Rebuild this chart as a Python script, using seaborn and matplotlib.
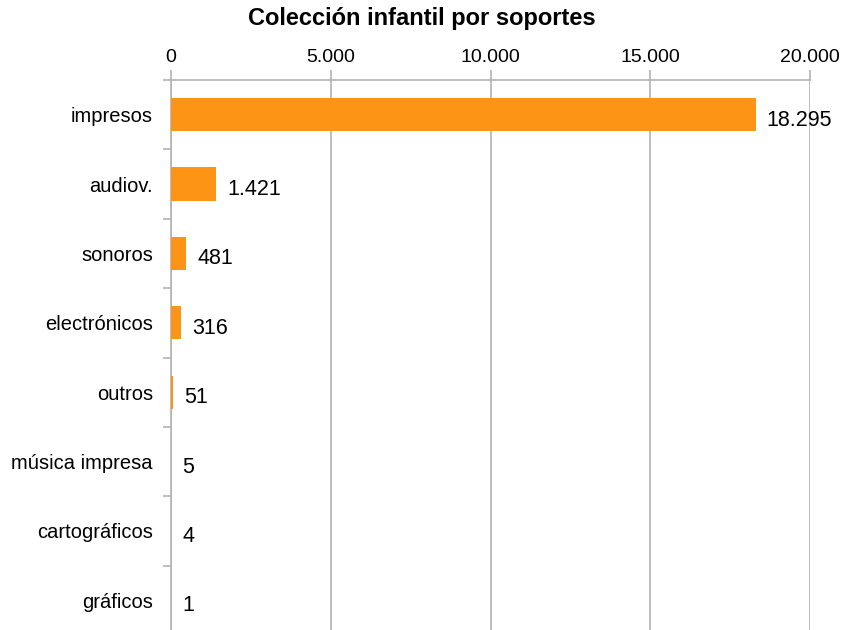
import matplotlib
matplotlib.use("Agg")
import pandas as pd
import seaborn as sns
import matplotlib.pyplot as plt
from matplotlib.ticker import FuncFormatter, FixedLocator

categories = ["impresos", "audiov.", "sonoros", "electrónicos", "outros",
              "música impresa", "cartográficos", "gráficos"]
values = [18295, 1421, 481, 316, 51, 5, 4, 1]
xticks = [0, 5000, 10000, 15000, 20000]

df = pd.DataFrame({"soporte": categories, "total": values})

sns.set_theme(style="white")
plt.rcParams["font.family"] = ["Liberation Sans", "DejaVu Sans"]
plt.rcParams["text.color"] = "black"
plt.rcParams["xtick.labelcolor"] = "black"
plt.rcParams["ytick.labelcolor"] = "black"

grey = "#b3b3b3"
fig = plt.figure(figsize=(8.44, 6.3), dpi=100)
ax = fig.add_axes([171 / 844, -5 / 630, (810 - 171) / 844, (630 - 80 + 5) / 630])

sns.barplot(data=df, x="total", y="soporte", orient="h", color="#fd9415",
            saturation=1, width=0.48, linewidth=0, ax=ax, zorder=3)


def dotted(v, pos=None):
    return f"{int(round(v)):,}".replace(",", ".")


labels = ax.bar_label(ax.containers[0], labels=[dotted(v) for v in values],
                      padding=8, fontsize=15.5, color="black")
# excel puts the numbers a touch below the bar centre
for t in labels:
    t.xyann = (8, -4)

ax.set_xlim(0, 20000)
ax.set_ylim(len(categories) - 0.5, -0.5)
ax.xaxis.tick_top()
ax.set_xticks(xticks)
ax.xaxis.set_major_formatter(FuncFormatter(dotted))
ax.tick_params(axis="x", which="major", length=7, width=1.2, color=grey,
               labelsize=14, pad=3, top=True, bottom=False, labelcolor="black")
ax.grid(axis="x", color=grey, linewidth=1.2, zorder=0)
ax.set_axisbelow(True)

ax.yaxis.set_minor_locator(FixedLocator([i - 0.5 for i in range(len(categories) + 1)]))
ax.tick_params(axis="y", which="major", length=0, labelsize=14.5, pad=13,
               labelcolor="black")
ax.tick_params(axis="y", which="minor", length=6, width=1.2, color=grey, left=True)

for side in ["right", "bottom"]:
    ax.spines[side].set_visible(False)
for side in ["left", "top"]:
    ax.spines[side].set_color(grey)
    ax.spines[side].set_linewidth(1.2)

ax.set_xlabel("")
ax.set_ylabel("")
fig.text(0.5, 1 - 18 / 630, "Colección infantil por soportes", ha="center",
         va="center", fontsize=17, fontweight="bold", color="black")

fig.savefig("out.png", dpi=100)
